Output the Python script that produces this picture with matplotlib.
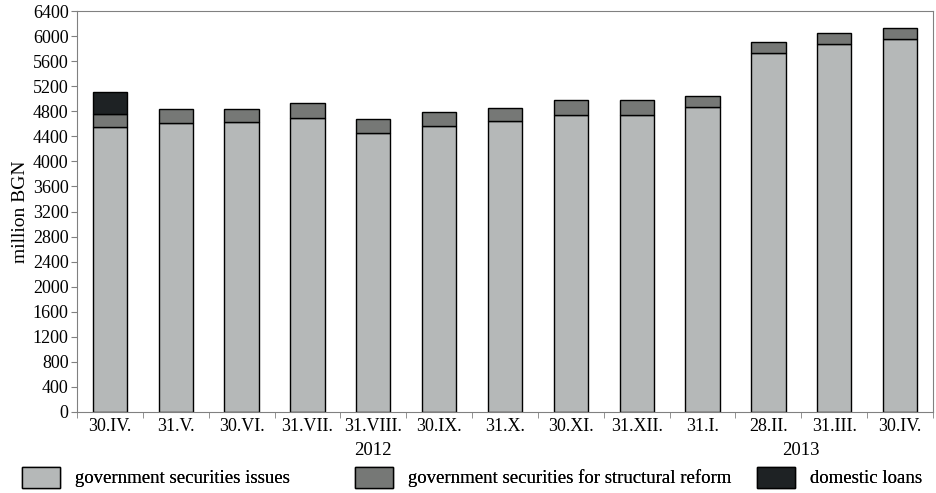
import matplotlib.pyplot as plt
import matplotlib.patches as mpatches
import numpy as np

plt.rcParams['font.family'] = ['Liberation Serif', 'DejaVu Serif']

### data ###
dates = ["30.IV.", "31.V.", "30.VI.", "31.VII.", "31.VIII.", "30.IX.", "31.X.",
         "30.XI.", "31.XII.", "31.I.", "28.II.", "31.III.", "30.IV."]
issues = [4555, 4607, 4623, 4698, 4448, 4570, 4639, 4745, 4745, 4868, 5725, 5868, 5953]
reform = [206, 234, 218, 228, 234, 213, 218, 240, 240, 181, 180, 176, 181]
loans = [346, 0, 0, 0, 0, 0, 0, 0, 0, 0, 0, 0, 0]
years = ["2012", "2013"]
year_pos = [4, 10.5]

labels = ["government securities issues",
          "government securities for structural reform",
          "domestic loans"]
colors = ["#b5b8b8", "#767876", "#1e2224"]

fig = plt.figure(figsize=(9.36, 4.93), dpi=100)
ax = fig.add_axes((77 / 936, 81 / 493, 856 / 936, 401 / 493))

x = np.arange(len(dates))
w = 0.52
bottom2 = np.array(issues)
bottom3 = bottom2 + np.array(reform)
ax.bar(x, issues, w, color=colors[0], edgecolor="black", linewidth=1)
ax.bar(x, reform, w, bottom=bottom2, color=colors[1], edgecolor="black", linewidth=1)
loan_idx = [i for i, v in enumerate(loans) if v > 0]
ax.bar(x[loan_idx], [loans[i] for i in loan_idx], w, bottom=bottom3[loan_idx],
       color=colors[2], edgecolor="black", linewidth=1)

ax.set_xlim(-0.5, len(dates) - 0.5)
ax.set_ylim(0, 6400)
ax.set_yticks(np.arange(0, 6401, 400))
ax.tick_params(axis="y", labelsize=13, length=4, color="#808080", pad=2)

# month labels centred under bars, tick marks between bars
ax.set_xticks(x)
ax.set_xticklabels(dates, fontsize=13)
ax.tick_params(axis="x", length=0, pad=4)
ax.set_xticks(np.arange(-0.5, len(dates), 1), minor=True)
ax.tick_params(axis="x", which="minor", length=4, color="#808080")

for s in ax.spines.values():
    s.set_color("#808080")

ax.set_ylabel("million BGN", fontsize=14, labelpad=3)

for yr, p in zip(years, year_pos):
    ax.text(p, -0.097, yr, transform=ax.get_xaxis_transform(), ha="center",
            va="center", fontsize=13.5)

# legend: three separate entries
leg_x = [0.0235, 0.379, 0.809]
for lab, c, lx in zip(labels, colors, leg_x):
    h = mpatches.Patch(facecolor=c, edgecolor="black", linewidth=1, label=lab)
    lg = fig.legend(handles=[h], loc="center left", bbox_to_anchor=(lx, 0.032),
                    frameon=False, fontsize=13.5, handlelength=2.03,
                    handleheight=1.33, handletextpad=0.8, borderaxespad=0,
                    borderpad=0)
    fig.add_artist(lg)

fig.savefig("out.png", dpi=100)
